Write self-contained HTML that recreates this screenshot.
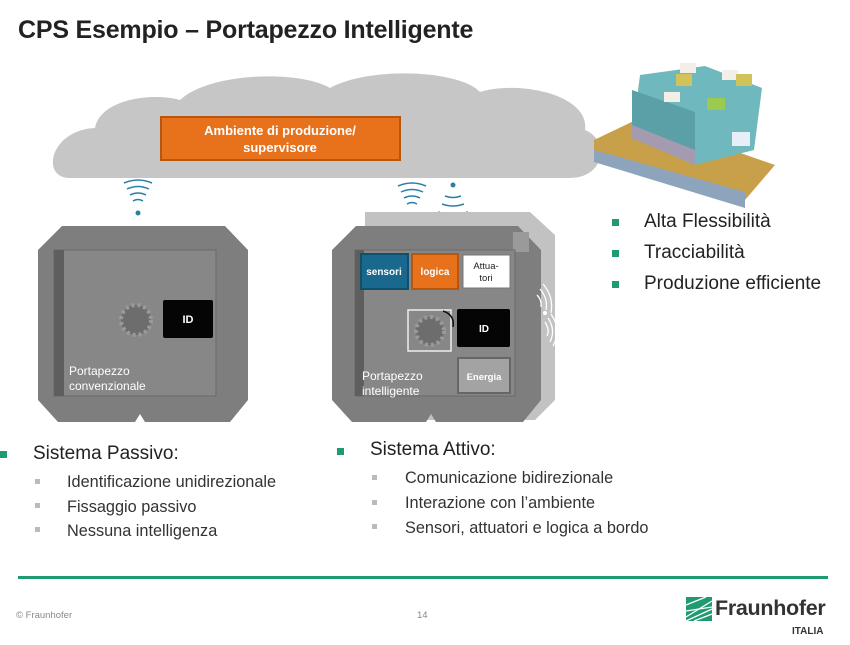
<!DOCTYPE html>
<html><head><meta charset="utf-8"><style>
body{margin:0;width:850px;height:645px;background:#fff;position:relative;overflow:hidden;font-family:"Liberation Sans",sans-serif}
.a{position:absolute;white-space:nowrap}
.t{font-size:25px;font-weight:bold;color:#222;left:18px;top:16px;letter-spacing:-0.2px}
.b{font-size:19px;color:#222}
.s{font-size:16.3px;color:#333}
.g{position:absolute;width:7px;height:7px;background:#1f9a72}
.q{position:absolute;width:5px;height:5px;background:#bbb}
</style></head><body>
<div class="a t">CPS Esempio – Portapezzo Intelligente</div>
<svg class="a" style="left:0;top:0" width="850" height="440">
<!-- cloud -->
<path d="M70,178 C40,178 50,130 95,128 C100,100 150,92 180,100 C210,72 300,70 330,88 C370,66 460,70 480,92 C520,80 590,95 585,130 C610,140 605,178 570,178 Z" fill="#c6c6c6"/>
<rect x="161" y="117" width="239" height="43" fill="#e8721c" stroke="#b85510" stroke-width="2"/>
<text x="280" y="135" fill="#fff" font-size="13" font-weight="bold" text-anchor="middle" font-family="Liberation Sans">Ambiente di produzione/</text>
<text x="280" y="152" fill="#fff" font-size="13" font-weight="bold" text-anchor="middle" font-family="Liberation Sans">supervisore</text>
<g fill="none" stroke="#2a7fa8" stroke-width="1.5">
<path d="M124,183 Q138,177 152,183"/><path d="M127,189 Q138,184 149,189"/><path d="M130,195 Q138,191 146,195"/><path d="M133,201 Q138,198 143,201"/>
<path d="M398,186 Q412,180 426,186"/><path d="M401,192 Q412,187 423,192"/><path d="M404,198 Q412,194 420,198"/><path d="M407,204 Q412,201 417,204"/>
<path d="M445,196 Q453,199 461,196"/><path d="M442,204 Q453,208 464,204"/><path d="M438,212 Q453,217 468,212"/>
</g>
<circle cx="138" cy="213" r="2.5" fill="#2a7fa8"/><circle cx="411" cy="217" r="2.5" fill="#2a7fa8"/><circle cx="453" cy="185" r="2.5" fill="#2a7fa8"/>
<!-- left tray -->
<path d="M62,226 L225,226 L248,250 L248,400 L230,422 L145,422 L140,414 L135,422 L58,422 L38,400 L38,250 Z" fill="#7e7e7e"/>
<rect x="54" y="250" width="162" height="146" fill="#878787" stroke="#6a6a6a"/>
<rect x="54" y="250" width="10" height="146" fill="#5e5e5e"/>
<circle cx="136" cy="320" r="15" fill="#6d6d6d" stroke="#9a9a9a" stroke-width="4" stroke-dasharray="3 3"/>
<rect x="163" y="300" width="50" height="38" fill="#050505" rx="2"/>
<text x="188" y="323" fill="#fff" font-size="11" font-weight="bold" text-anchor="middle" font-family="Liberation Sans">ID</text>
<text x="69" y="375" fill="#fff" font-size="12" font-family="Liberation Sans">Portapezzo</text>
<text x="69" y="390" fill="#fff" font-size="12" font-family="Liberation Sans">convenzionale</text>
<!-- right tray -->
<path d="M365,212 L530,212 L555,235 L555,400 L535,420 L365,420 Z" fill="#c2c2c2"/>
<path d="M356,226 L518,226 L541,250 L541,400 L523,422 L436,422 L431,414 L426,422 L352,422 L332,400 L332,250 Z" fill="#7e7e7e"/>
<rect x="513" y="232" width="16" height="20" fill="#9a9a9a"/>
<rect x="355" y="250" width="160" height="146" fill="#878787" stroke="#6a6a6a"/>
<rect x="355" y="250" width="9" height="146" fill="#5e5e5e"/>
<rect x="361" y="254" width="47" height="35" fill="#19698f" stroke="#124f6c" stroke-width="2"/>
<text x="384" y="275" fill="#fff" font-size="10" font-weight="bold" text-anchor="middle" font-family="Liberation Sans">sensori</text>
<rect x="412" y="254" width="46" height="35" fill="#e8721c" stroke="#b85510" stroke-width="2"/>
<text x="435" y="275" fill="#fff" font-size="10" font-weight="bold" text-anchor="middle" font-family="Liberation Sans">logica</text>
<rect x="463" y="255" width="47" height="33" fill="#fff" stroke="#777"/>
<text x="486" y="269" fill="#222" font-size="9.5" text-anchor="middle" font-family="Liberation Sans">Attua-</text>
<text x="486" y="281" fill="#222" font-size="9.5" text-anchor="middle" font-family="Liberation Sans">tori</text>
<rect x="408" y="310" width="43" height="41" fill="none" stroke="#eee" stroke-width="1.5"/>
<circle cx="430" cy="331" r="14" fill="#6d6d6d" stroke="#9a9a9a" stroke-width="4" stroke-dasharray="3 3"/>
<path d="M443,311 Q455,315 453,327" fill="none" stroke="#111" stroke-width="1.5"/>
<rect x="457" y="309" width="53" height="38" fill="#050505" rx="2"/>
<text x="484" y="332" fill="#fff" font-size="10" font-weight="bold" text-anchor="middle" font-family="Liberation Sans">ID</text>
<rect x="458" y="358" width="52" height="35" fill="#a3a3a3" stroke="#666" stroke-width="2"/>
<text x="484" y="380" fill="#fff" font-size="9.5" font-weight="bold" text-anchor="middle" font-family="Liberation Sans">Energia</text>
<text x="362" y="380" fill="#fff" font-size="12" font-family="Liberation Sans">Portapezzo</text>
<text x="362" y="395" fill="#fff" font-size="12" font-family="Liberation Sans">intelligente</text>
<g fill="none" stroke="#fff" stroke-width="1.3">
<path d="M537,295 Q542,300 541,307"/><path d="M540,289 Q548,298 546,310"/><path d="M543,284 Q554,297 551,313"/>
<path d="M545,322 Q550,330 547,336"/><path d="M548,318 Q556,330 550,342"/><path d="M551,314 Q562,330 553,346"/>
</g>
<circle cx="545" cy="313" r="2" fill="#fff"/>
<!-- 3D picture -->
<polygon points="594,140 640,118 775,165 745,200 594,158" fill="#c9a04a"/>
<polygon points="594,150 745,192 745,208 594,162" fill="#8ea4bc"/>
<polygon points="640,75 705,66 762,88 754,150 695,165 632,138" fill="#6fb8bd"/>
<polygon points="632,90 695,112 695,165 632,138" fill="#5aa0a6"/>
<polygon points="632,125 695,150 695,165 632,138" fill="#a59bb0"/>
<rect x="680" y="63" width="16" height="10" fill="#f3eee8"/><rect x="722" y="70" width="16" height="10" fill="#f3eee8"/>
<rect x="664" y="92" width="16" height="10" fill="#f3eee8"/><rect x="707" y="98" width="18" height="12" fill="#9acb4e"/>
<rect x="736" y="74" width="16" height="12" fill="#cfc35a"/><rect x="676" y="74" width="16" height="12" fill="#cfc35a"/>
<rect x="732" y="132" width="18" height="14" fill="#e8eef5"/>
</svg>
<div class="g" style="left:612px;top:219px"></div><div class="a b" style="left:644px;top:211px">Alta Flessibilità</div>
<div class="g" style="left:612px;top:250px"></div><div class="a b" style="left:644px;top:242px">Tracciabilità</div>
<div class="g" style="left:612px;top:281px"></div><div class="a b" style="left:644px;top:273px">Produzione efficiente</div>

<div class="g" style="left:0;top:451px"></div><div class="a b" style="left:33px;top:443px">Sistema Passivo:</div>
<div class="q" style="left:35px;top:479px"></div><div class="a s" style="left:67px;top:473px">Identificazione unidirezionale</div>
<div class="q" style="left:35px;top:503px"></div><div class="a s" style="left:67px;top:498px">Fissaggio passivo</div>
<div class="q" style="left:35px;top:527px"></div><div class="a s" style="left:67px;top:522px">Nessuna intelligenza</div>

<div class="g" style="left:337px;top:448px"></div><div class="a b" style="left:370px;top:439px">Sistema Attivo:</div>
<div class="q" style="left:372px;top:475px"></div><div class="a s" style="left:405px;top:469px">Comunicazione bidirezionale</div>
<div class="q" style="left:372px;top:500px"></div><div class="a s" style="left:405px;top:494px">Interazione con l’ambiente</div>
<div class="q" style="left:372px;top:524px"></div><div class="a s" style="left:405px;top:519px">Sensori, attuatori e logica a bordo</div>

<div class="a" style="left:18px;top:576px;width:810px;height:3px;background:#1f9a72"></div>
<div class="a" style="left:16px;top:610px;font-size:9.5px;color:#888">© Fraunhofer</div>
<div class="a" style="left:417px;top:610px;font-size:9.5px;color:#888">14</div>
<svg class="a" style="left:686px;top:597px" width="26" height="24"><rect width="26" height="24" fill="#1f9a72"/><g stroke="#fff" stroke-width="1.3" fill="none"><path d="M0,20 L26,4"/><path d="M0,14 L26,10"/><path d="M0,24 L26,12"/><path d="M8,24 L26,17"/><path d="M0,8 L20,0"/></g></svg>
<div class="a" style="left:715px;top:596px;font-size:21.5px;font-weight:bold;color:#333;letter-spacing:-0.3px">Fraunhofer</div>
<div class="a" style="left:792px;top:626px;font-size:10px;font-weight:bold;color:#333">ITALIA</div>
</body></html>
